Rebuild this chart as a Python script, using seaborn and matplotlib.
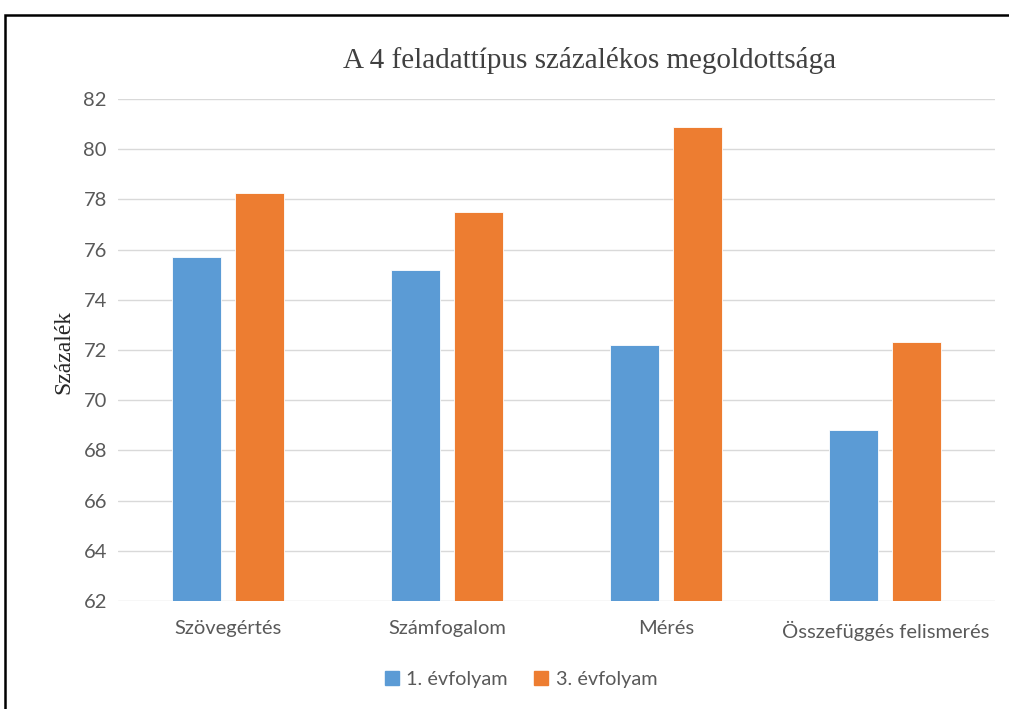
import matplotlib
matplotlib.use('Agg')
import matplotlib.pyplot as plt
import seaborn as sns
import pandas as pd
from matplotlib.patches import Rectangle

# Data
categories = ['Szövegértés', 'Számfogalom', 'Mérés', 'Összefüggés felismerés']
series_names = ['1. évfolyam', '3. évfolyam']
grade1 = [75.7, 75.2, 72.2, 68.8]
grade3 = [78.25, 77.5, 80.9, 72.3]
yticks = [62, 64, 66, 68, 70, 72, 74, 76, 78, 80, 82]

colors = ['#5B9BD5', '#ED7D31']
tick_color = '#595959'

df = pd.DataFrame({
    'category': categories * 2,
    'series': [series_names[0]] * 4 + [series_names[1]] * 4,
    'value': grade1 + grade3,
})

sns.set_style('white')
plt.rcParams['font.family'] = ['Lato', 'DejaVu Sans']

fig = plt.figure(figsize=(10.09, 7.09), dpi=100)
ax = fig.add_axes([118 / 1009, 1 - 601 / 709, (995 - 118) / 1009, (601 - 99) / 709])

sns.barplot(data=df, x='category', y='value', hue='series', palette=colors,
            saturation=1, width=0.575, gap=0.22, ax=ax, edgecolor='white',
            linewidth=0.6, legend=False)

ax.set_ylim(62, 82)
ax.set_yticks(yticks)
ax.grid(True, axis='y', color='#D9D9D9', linewidth=1)
ax.set_axisbelow(True)
for s in ax.spines.values():
    s.set_visible(False)
ax.tick_params(axis='both', length=0, labelsize=14.5, labelcolor=tick_color)
ax.tick_params(axis='y', pad=8)
ax.tick_params(axis='x', pad=14)
ax.set_xlabel('')
ax.set_ylabel('')

fig.text(590 / 1009, 1 - 60 / 709, 'A 4 feladattípus százalékos megoldottsága',
         family='Liberation Serif', fontsize=21, color='#404040',
         ha='center', va='center')
fig.text(64 / 1009, 1 - 352 / 709, 'Százalék', family='Liberation Serif',
         fontsize=17, color='#262626', rotation=90, ha='center', va='center')

handles = [Rectangle((0, 0), 1, 1, color=c) for c in colors]
fig.legend(handles, series_names, loc='center', bbox_to_anchor=(521 / 1009, 1 - 679 / 709),
           ncol=2, frameon=False, fontsize=14.3, labelcolor=tick_color,
           handlelength=0.7, handleheight=0.7, handletextpad=0.4, columnspacing=1.3)

# outer frame, cut by the image edges at right and bottom
fig.patches.append(Rectangle((5 / 1009, -0.1), 1.1, 1 - 15 / 709 + 0.1,
                             transform=fig.transFigure, fill=False,
                             edgecolor='black', linewidth=1.8))

fig.savefig('out.png', dpi=100)
